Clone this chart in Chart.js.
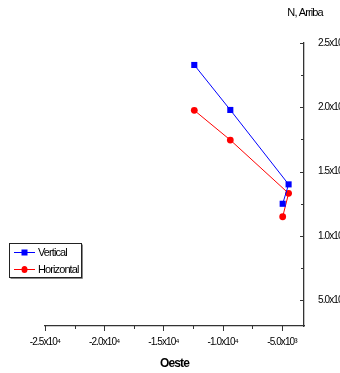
<!DOCTYPE html>
<html>
<head>
<meta charset="utf-8">
<script src="https://cdn.jsdelivr.net/npm/chart.js@4/dist/chart.umd.min.js"></script>
<style>
  html, body { margin: 0; padding: 0; background: #fff; }
  #wrap { width: 340px; height: 373px; position: relative; }
</style>
</head>
<body>
<div id="wrap"><canvas id="c" width="340" height="373"></canvas></div>
<script>
/* ── Data ────────────────────────────────────────── */
const seriesNames  = ['Vertical', 'Horizontal'];
const xVertical    = [-12400, -9360, -4440, -4940];
const yVertical    = [23290, 19790, 14000, 12490];
const xHorizontal  = [-12400, -9360, -4440, -4940];
const yHorizontal  = [19760, 17450, 13300, 11480];

/* ── Axis ranges + tick labels ───────────────────── */
const xMin = -25000, xMax = -3140;
const yMin = 2980,   yMax = 25000;
const xTickValues = [-25000, -20000, -15000, -10000, -5000];
const xTickLabels = ['-2.5x10⁴', '-2.0x10⁴', '-1.5x10⁴', '-1.0x10⁴', '-5.0x10³'];
const yTickValues = [5000, 10000, 15000, 20000, 25000];
const yTickLabels = ['5.0x10³', '1.0x10⁴', '1.5x10⁴', '2.0x10⁴', '2.5x10⁴'];
const minorStep = 2500;

const zip = (xs, ys) => xs.map((x, i) => ({ x: x, y: ys[i] }));

const FONT = 'Liberation Sans, Arial, sans-serif';
const AXIS = '#333';

/* ── Plugins ─────────────────────────────────────── */
const condensed = {
  id: 'condensed',
  beforeDraw(chart) { chart.ctx.letterSpacing = '-0.9px'; }
};

const axisTicks = {
  id: 'axisTicks',
  afterDraw(chart) {
    const ctx = chart.ctx, xs = chart.scales.x, ys = chart.scales.y;
    ctx.save();
    ctx.strokeStyle = AXIS;
    ctx.lineWidth = 1;
    ctx.beginPath();
    for (let v = -25000; v <= xMax; v += minorStep) {
      const px = Math.round(xs.getPixelForValue(v)) + 0.5;
      const len = (v % 5000 === 0) ? 5 : 3;
      ctx.moveTo(px, xs.top);
      ctx.lineTo(px, xs.top + len);
    }
    for (let v = 5000; v <= yMax; v += minorStep) {
      const py = Math.round(ys.getPixelForValue(v)) + 0.5;
      const len = (v % 5000 === 0) ? 4 : 3;
      ctx.moveTo(ys.left, py);
      ctx.lineTo(ys.left - len, py);
    }
    ctx.stroke();

    /* y axis caption above the axis */
    ctx.fillStyle = '#000';
    ctx.font = '11px ' + FONT;
    ctx.textAlign = 'center';
    ctx.textBaseline = 'middle';
    ctx.fillText('N, Arriba', ys.left + 1, 13);
    ctx.restore();
  }
};

const boxLegend = {
  id: 'boxLegend',
  afterDraw(chart) {
    const ctx = chart.ctx;
    const bx = 9.5, by = 243.5, bw = 72, bh = 34;
    ctx.save();
    ctx.strokeStyle = '#888';
    ctx.lineWidth = 1;
    ctx.beginPath();
    ctx.moveTo(bx + 1, by + bh + 1); ctx.lineTo(bx + bw + 1, by + bh + 1); ctx.lineTo(bx + bw + 1, by + 1);
    ctx.stroke();
    ctx.strokeStyle = '#222';
    ctx.strokeRect(bx, by, bw, bh);

    chart.data.datasets.forEach((ds, i) => {
      const cy = 252.5 + i * 17;
      ctx.strokeStyle = ds.borderColor;
      ctx.fillStyle = ds.borderColor;
      ctx.beginPath();
      ctx.moveTo(14, cy); ctx.lineTo(35, cy);
      ctx.stroke();
      if (ds.pointStyle === 'rect') {
        ctx.fillRect(21.5, cy - 3, 6, 6);
      } else {
        ctx.beginPath();
        ctx.ellipse(24.5, cy, 3, 3.5, 0, 0, Math.PI * 2);
        ctx.fill();
      }
      ctx.fillStyle = '#000';
      ctx.font = '11px ' + FONT;
      ctx.textAlign = 'left';
      ctx.textBaseline = 'middle';
      ctx.fillText(ds.label, 38, cy + 0.5);
    });
    ctx.restore();
  }
};

/* ── Chart ───────────────────────────────────────── */
new Chart(document.getElementById('c'), {
  type: 'scatter',
  data: {
    datasets: [
      {
        label: seriesNames[0],
        data: zip(xVertical, yVertical),
        showLine: true,
        borderColor: '#0000ff',
        backgroundColor: '#0000ff',
        borderWidth: 1,
        pointStyle: 'rect',
        pointRadius: 4.3,
        pointBorderWidth: 0,
      },
      {
        label: seriesNames[1],
        data: zip(xHorizontal, yHorizontal),
        showLine: true,
        borderColor: '#ff0000',
        backgroundColor: '#ff0000',
        borderWidth: 1,
        pointStyle: 'circle',
        pointRadius: 3.4,
        pointBorderWidth: 0,
      }
    ]
  },
  options: {
    responsive: false,
    animation: false,
    layout: { padding: { left: 45, top: 43, right: 0, bottom: 0 } },
    plugins: { legend: { display: false }, title: { display: false }, tooltip: { enabled: false } },
    scales: {
      x: {
        type: 'linear',
        position: 'bottom',
        min: xMin, max: xMax,
        afterBuildTicks: s => { s.ticks = xTickValues.map(v => ({ value: v })); },
        afterFit: s => { s.height = 47; },
        grid: { display: false, drawTicks: false },
        border: { display: true, color: AXIS, width: 1.3 },
        ticks: {
          padding: 10,
          maxRotation: 0,
          autoSkip: false,
          color: '#000',
          font: { family: FONT, size: 10 },
          callback: v => xTickLabels[xTickValues.indexOf(v)]
        },
        title: {
          display: true,
          text: 'Oeste',
          color: '#000',
          font: { family: FONT, size: 12, weight: 'bold' },
          padding: { top: 0, bottom: 2 }
        }
      },
      y: {
        type: 'linear',
        position: 'right',
        min: yMin, max: yMax,
        afterBuildTicks: s => { s.ticks = yTickValues.map(v => ({ value: v })); },
        afterFit: s => { s.width = 36; },
        grid: { display: false, drawTicks: false },
        border: { display: true, color: AXIS, width: 1.3 },
        ticks: {
          padding: 14,
          autoSkip: false,
          color: '#000',
          font: { family: FONT, size: 10 },
          callback: v => yTickLabels[yTickValues.indexOf(v)]
        }
      }
    }
  },
  plugins: [condensed, axisTicks, boxLegend]
});
</script>
</body>
</html>
